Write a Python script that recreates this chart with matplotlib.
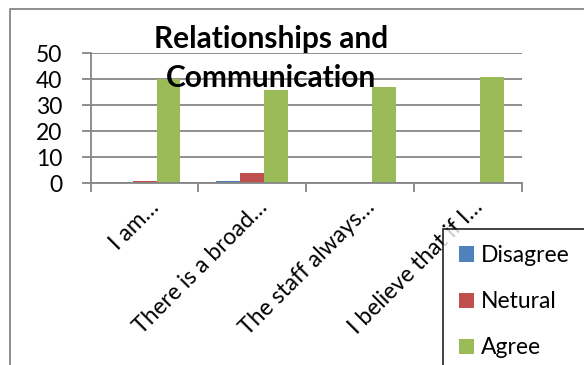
import matplotlib.pyplot as plt
import matplotlib.transforms as mtransforms
from matplotlib.lines import Line2D
import numpy as np

# Survey answers per statement
statements = ["I am…", "There is a broad…", "The staff always…", "I believe that if I…"]
disagree = [0, 1, 0, 0]
netural = [1, 4, 0, 0]
agree = [40, 36, 37, 41]
y_ticks = [0, 10, 20, 30, 40, 50]

SERIES = [
	("Disagree", disagree, "#4F81BD"),
	("Netural", netural, "#C0504D"),
	("Agree", agree, "#9BBB59"),
]
GRID = "#868686"


def plot_relationships(out_path="out.png"):
	plt.rcParams["font.family"] = ["Lato", "DejaVu Sans"]
	fig = plt.figure(figsize=(5.84, 3.65), dpi=100)
	W, H = 584, 365

	# outer chart frame: left and top edges only, the rest runs off the image
	fx, fy = 10 / W, 1 - 9 / H
	fig.add_artist(Line2D([fx, fx, 1.0], [0.0, fy, fy], transform=fig.transFigure,
		color=GRID, linewidth=1.3))

	ax = fig.add_axes([90.7 / W, 1 - 183.3 / H, 431 / W, 130 / H])

	x = np.arange(len(statements))
	width = 1 / 4.5
	for i, (name, vals, color) in enumerate(SERIES):
		ax.bar(x + (i - 1) * width, vals, width, color=color, label=name, zorder=2)

	ax.set_xlim(-0.5, len(statements) - 0.5)
	ax.set_ylim(0, 50)
	ax.set_yticks(y_ticks)
	ax.yaxis.grid(True, color=GRID, linewidth=1.3)
	ax.set_axisbelow(True)

	for side in ("top", "right"):
		ax.spines[side].set_visible(False)
	for side in ("left", "bottom"):
		ax.spines[side].set_color(GRID)
		ax.spines[side].set_linewidth(1.3)

	ax.tick_params(axis="y", colors=GRID, length=6.5, width=1.3, labelsize=16.5,
		labelcolor="black", pad=14)

	# tick marks sit between categories, labels at the centres
	ax.set_xticks(x, statements)
	ax.set_xticks(np.arange(len(statements) + 1) - 0.5, minor=True)
	ax.tick_params(axis="x", which="minor", colors=GRID, length=6.5, width=1.3, direction="out")
	ax.tick_params(axis="x", which="major", length=0, labelsize=16.5, pad=18)
	shift = mtransforms.ScaledTranslation(16 / 100, 0, fig.dpi_scale_trans)
	for lab in ax.get_xticklabels():
		lab.set_rotation(45)
		lab.set_ha("right")
		lab.set_va("baseline")
		lab.set_rotation_mode("anchor")
		lab.set_transform(lab.get_transform() + shift)

	fig.text(271 / W, 1 - 86.7 / H, "Relationships and\nCommunication",
		ha="center", va="baseline", fontsize=21.5, fontweight="bold", linespacing=1.45)

	handles, labels = ax.get_legend_handles_labels()
	leg = fig.legend(handles, labels, loc="upper left", bbox_to_anchor=(443 / W, 1 - 229 / H),
		borderaxespad=0, fontsize=16.5, frameon=True, fancybox=False, borderpad=0.7,
		handlelength=0.65, handleheight=0.65, handletextpad=0.3, labelspacing=1.1)
	leg.get_frame().set_edgecolor("black")
	leg.get_frame().set_linewidth(1.3)

	fig.savefig(out_path, dpi=100)


def main():
	plot_relationships("out.png")


if __name__ == "__main__":
	main()
